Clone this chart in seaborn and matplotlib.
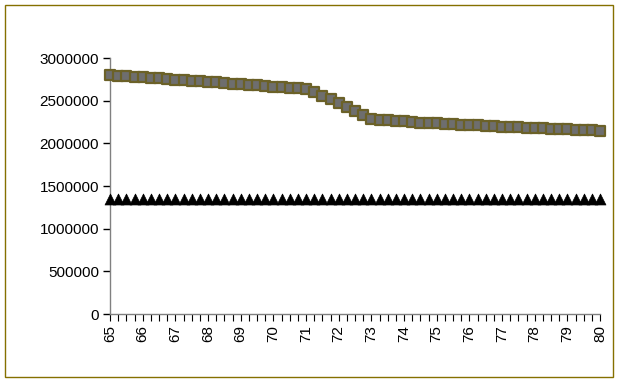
import matplotlib
matplotlib.use("Agg")
import numpy as np
import pandas as pd
import matplotlib.pyplot as plt
import seaborn as sns
from matplotlib.patches import Rectangle

sns.set_theme(style="white")
plt.rcParams['font.family'] = ['Liberation Sans', 'DejaVu Sans']
plt.rcParams['text.color'] = 'black'
plt.rcParams['xtick.color'] = 'black'
plt.rcParams['ytick.color'] = 'black'

# categories: 65 .. 80 in quarter steps
ages = [65 + 0.25 * i for i in range(61)]

# square series
series_a = [2800000, 2793000, 2787000, 2780000, 2773000, 2766000, 2760000, 2753000,
            2746000, 2739000, 2733000, 2726000, 2719000, 2713000, 2706000, 2699000,
            2692000, 2686000, 2679000, 2672000, 2665000, 2659000, 2652000, 2645000,
            2638000, 2600000, 2560000, 2518000, 2474000, 2428000, 2380000, 2332000,
            2290000, 2276000, 2268000, 2262000, 2256000, 2250000, 2244000, 2239000,
            2234000, 2229000, 2224000, 2219000, 2214000, 2209000, 2205000, 2200000,
            2196000, 2192000, 2188000, 2184000, 2180000, 2176000, 2172000, 2168000,
            2164000, 2160000, 2156000, 2152000, 2148000]

# triangle series (flat)
series_b = [1350000] * 61

label_ticks = [65, 66, 67, 68, 69, 70, 71, 72, 73, 74, 75, 76, 77, 78, 79, 80]

df = pd.DataFrame({'age': ages, 'a': series_a, 'b': series_b})
df['pos'] = np.arange(len(df))

fig = plt.figure(figsize=(6.19, 3.82), dpi=100)
fig.patch.set_facecolor('white')
fig.add_artist(Rectangle((5 / 619, 5 / 382), 608 / 619, 372 / 382,
                         transform=fig.transFigure, fill=False,
                         edgecolor='#857000', linewidth=1.0))

ax = fig.add_axes([110 / 619, 1 - 314 / 382, 490 / 619, 256 / 382])

sns.scatterplot(data=df, x='pos', y='a', marker='s', s=58, color='#6E6E6E',
                edgecolor='#6B6128', linewidth=1.6, ax=ax, zorder=3, clip_on=False)
sns.scatterplot(data=df, x='pos', y='b', marker='^', s=62, color='black',
                edgecolor='black', linewidth=0.5, ax=ax, zorder=3, clip_on=False)

ax.set_xlim(0, len(df) - 1)
ax.set_ylim(0, 3000000)
ax.set_yticks([0, 500000, 1000000, 1500000, 2000000, 2500000, 3000000])
ax.set_yticklabels(['0', '500000', '1000000', '1500000', '2000000', '2500000', '3000000'])

ax.set_xticks(df['pos'], minor=True)
major_pos = [int((v - 65) * 4) for v in label_ticks]
ax.set_xticks(major_pos)
ax.set_xticklabels([str(v) for v in label_ticks], rotation=90)

for side in ['top', 'right']:
    ax.spines[side].set_visible(False)
for side in ['left', 'bottom']:
    ax.spines[side].set_color('#808080')
    ax.spines[side].set_linewidth(1.0)

ax.tick_params(axis='y', which='major', direction='out', length=5, width=1,
               color='black', labelcolor='black', labelsize=11, pad=3, left=True)
ax.tick_params(axis='x', which='both', direction='out', length=5, width=0.8,
               color='black', labelcolor='black', labelsize=11, pad=3, bottom=True)
ax.set_xlabel('')
ax.set_ylabel('')
ax.grid(False)

fig.savefig('out.png', dpi=100, facecolor='white')
